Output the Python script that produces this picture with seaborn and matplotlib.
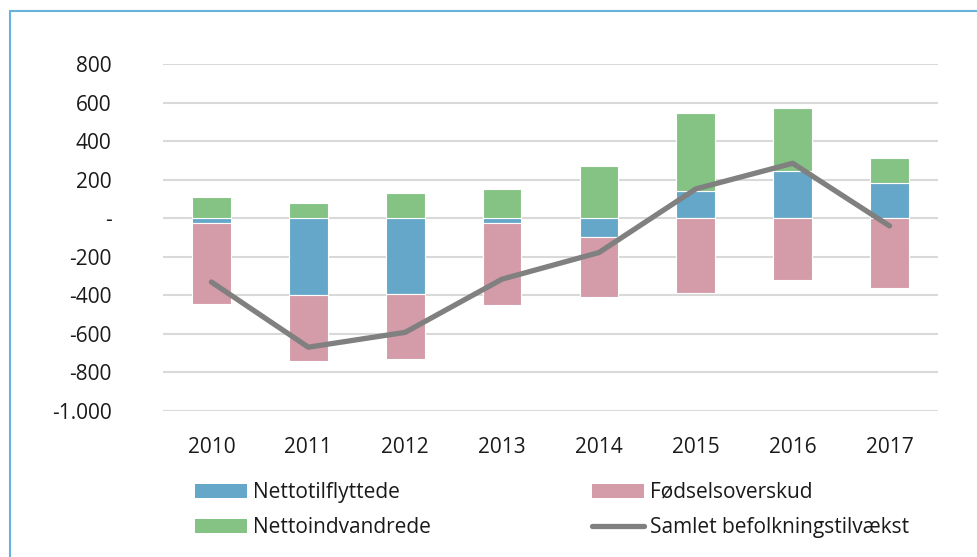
import numpy as np
import matplotlib
matplotlib.use("Agg")
import matplotlib.pyplot as plt
import seaborn as sns
from matplotlib.patches import Patch
from matplotlib.lines import Line2D

years = ["2010", "2011", "2012", "2013", "2014", "2015", "2016", "2017"]
nettotilflyttede = [-23, -400, -393, -26, -98, 141, 245, 183]
foedselsoverskud = [-420, -342, -335, -426, -311, -388, -323, -362]
nettoindvandrede = [112, 78, 129, 152, 270, 407, 326, 127]
samlet = [-331, -669, -592, -316, -178, 152, 285, -40]
y_ticks = [800, 600, 400, 200, 0, -200, -400, -600, -800, -1000]
y_ticklabels = ["800", "600", "400", "200", "-", "-200", "-400", "-600", "-800", "-1.000"]
legend_labels = ["Nettotilflyttede", "Fødselsoverskud", "Nettoindvandrede", "Samlet befolkningstilvækst"]

c_blue = "#65A7C8"
c_pink = "#D49BA8"
c_green = "#84C384"
c_line = "#808080"
txt = "#1a1a1a"
fs = 15

sns.set_theme(style="white")
plt.rcParams["font.family"] = ["Open Sans", "DejaVu Sans"]

fig = plt.figure(figsize=(9.78, 5.57), dpi=100)
ax = fig.add_axes([163 / 978, 1 - 411 / 557, (938 - 163) / 978, (411 - 64) / 557])

blue = np.array(nettotilflyttede, dtype=float)
pink = np.array(foedselsoverskud, dtype=float)
green = np.array(nettoindvandrede, dtype=float)
pos_base = np.where(blue > 0, blue, 0)
neg_base = np.where(blue < 0, blue, 0)

ax.set_axisbelow(True)
for y in y_ticks:
    ax.axhline(y, color="#D9D9D9", lw=1.5, zorder=0)

kw = dict(width=0.4, edgecolor="white", linewidth=0.8, ax=ax, zorder=2)
sns.barplot(x=years, y=blue, color=c_blue, saturation=1, **kw)
sns.barplot(x=years, y=pink, bottom=neg_base, color=c_pink, saturation=1, **kw)
sns.barplot(x=years, y=green, bottom=pos_base, color=c_green, saturation=1, **kw)
sns.lineplot(x=np.arange(len(years)), y=samlet, color=c_line, lw=3.8, ax=ax, zorder=3,
             solid_capstyle="round")

ax.set_xlim(-0.5, len(years) - 0.5)
ax.set_ylim(-1000, 800)
ax.set_yticks(y_ticks)
ax.set_yticklabels(y_ticklabels)
ax.set_xticks(np.arange(len(years)))
ax.set_xticklabels(years)
ax.tick_params(axis="y", length=0, pad=37, labelsize=fs, colors=txt)
ax.tick_params(axis="x", length=0, pad=19, labelsize=fs, colors=txt)
ax.set_xlabel("")
ax.set_ylabel("")
for s in ax.spines.values():
    s.set_visible(False)

handles = [
    Patch(facecolor=c_blue, edgecolor="none"),
    Patch(facecolor=c_pink, edgecolor="none"),
    Patch(facecolor=c_green, edgecolor="none"),
    Line2D([0], [0], color=c_line, lw=3.8, solid_capstyle="round"),
]
leg_kw = dict(loc="center left", frameon=False, fontsize=fs, handlelength=2.5,
              handletextpad=0.3, labelspacing=0.68, borderpad=0, borderaxespad=0,
              labelcolor=txt, handleheight=0.65)
leg1 = fig.legend([handles[0], handles[2]], [legend_labels[0], legend_labels[2]],
                  bbox_to_anchor=(195 / 978, 1 - 510 / 557), **leg_kw)
leg2 = fig.legend([handles[1], handles[3]], [legend_labels[1], legend_labels[3]],
                  bbox_to_anchor=(592 / 978, 1 - 510 / 557), **leg_kw)

frame_col = "#6AB2DE"
fig.add_artist(Line2D([9.5 / 978, 1.0], [1 - 10.5 / 557, 1 - 10.5 / 557],
                      transform=fig.transFigure, color=frame_col, lw=1.5))
fig.add_artist(Line2D([9.5 / 978, 9.5 / 978], [0, 1 - 10.5 / 557],
                      transform=fig.transFigure, color=frame_col, lw=1.5))

fig.savefig("out.png", dpi=100)
